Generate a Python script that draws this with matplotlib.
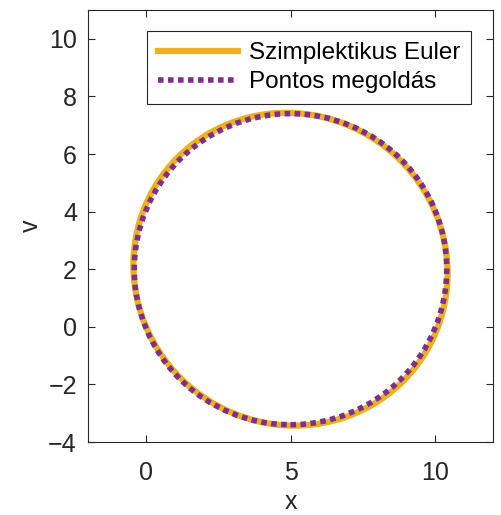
import matplotlib
matplotlib.use('Agg')
import matplotlib.pyplot as plt
from matplotlib.patches import Ellipse, Circle
from matplotlib.lines import Line2D

# values
exact_center = [5.0, 2.0]      # (x, v)
exact_radius = 5.4
euler_center = [5.0, 2.0]
euler_axes = [11.0, 10.72]     # full width / height of the tilted ellipse
euler_angle = -45.0            # degrees
labels = ['Szimplektikus Euler', 'Pontos megoldás']
xticks = [0, 5, 10]
yticks = [-4, -2, 0, 2, 4, 6, 8, 10]

orange = '#EDB120'
purple = '#7E2F8E'
axcol = '#262626'

plt.rcParams['font.family'] = ['Liberation Sans', 'DejaVu Sans']
plt.rcParams['font.size'] = 18

fig = plt.figure(figsize=(5.01, 5.15), dpi=100)
ax = fig.add_axes([88/501, 73/515, 405/501, 432/515])

euler = Ellipse(euler_center, euler_axes[0], euler_axes[1], angle=euler_angle,
                fill=False, edgecolor=orange, linewidth=4.5)
exact = Circle(exact_center, exact_radius, fill=False, edgecolor=purple,
               linewidth=4.0, linestyle=(0, (1, 0.8)), capstyle='butt')
ax.add_patch(euler)
ax.add_patch(exact)

ax.set_xlim(-2, 12)
ax.set_ylim(-4, 11)
ax.set_xticks(xticks)
ax.set_yticks(yticks)
ax.set_xlabel('x', color=axcol, labelpad=3)
ax.set_ylabel('v', color=axcol)
ax.tick_params(direction='in', top=True, right=True, length=5, width=0.8,
               colors=axcol, labelsize=18)
ax.tick_params(axis='x', pad=14)
ax.tick_params(axis='y', pad=8)
for s in ax.spines.values():
    s.set_color(axcol)
    s.set_linewidth(0.8)

handles = [Line2D([], [], color=orange, linewidth=4.5),
           Line2D([], [], color=purple, linewidth=4.0, linestyle=(0, (1, 0.8)))]
leg = ax.legend(handles, labels, loc='upper right', bbox_to_anchor=(0.9457, 0.951),
                borderaxespad=0, fancybox=False, framealpha=1, edgecolor=axcol,
                fontsize=17.5, handlelength=3.3, handletextpad=0.45,
                labelspacing=0.3, borderpad=0.45)
leg.get_frame().set_linewidth(0.8)

fig.savefig('out.png', dpi=100)
